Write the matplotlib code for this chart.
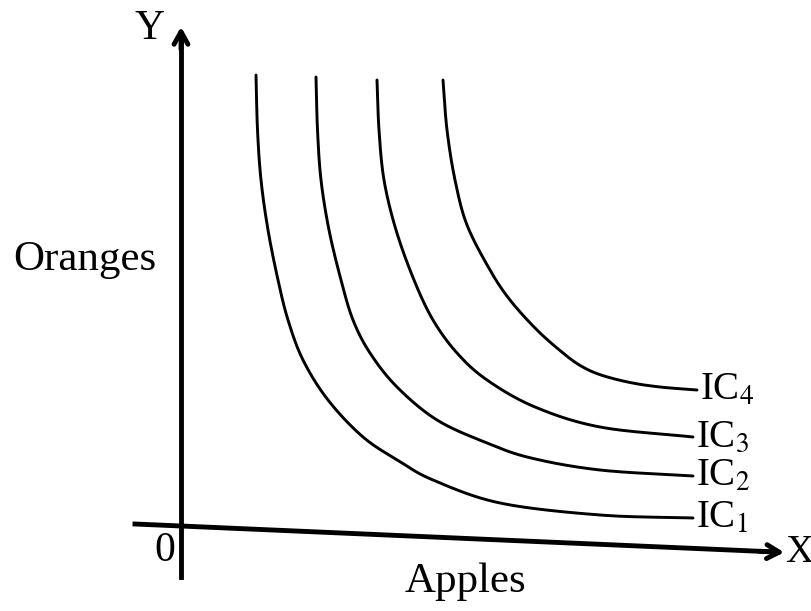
import numpy as np
import matplotlib.pyplot as plt

plt.rcParams['font.family'] = 'Liberation Serif'
plt.rcParams['mathtext.fontset'] = 'stix'

# indifference curves (apples, oranges)
ic1_x = [7.5, 7.65, 8.0, 8.7, 9.7, 10.7, 12.2, 14.7, 18.2, 21.8, 25.2, 31.9, 41.9, 51.2]
ic1_y = [44.7, 39.2, 34.2, 29.2, 24.2, 20.2, 16.2, 12.2, 8.5, 6.1, 4.2, 1.9, 0.7, 0.4]
ic2_x = [13.5, 13.65, 14.0, 14.8, 16.0, 17.2, 18.9, 21.6, 25.6, 30.6, 35.0, 41.9, 51.2]
ic2_y = [44.5, 39.2, 34.2, 29.2, 24.2, 20.2, 16.9, 13.5, 10.2, 7.9, 6.4, 5.2, 4.6]
ic3_x = [19.6, 19.8, 20.3, 21.5, 23.3, 25.2, 27.6, 30.6, 35.4, 41.9, 51.2]
ic3_y = [44.2, 39.2, 34.2, 29.2, 24.2, 20.2, 16.9, 14.2, 11.5, 9.5, 8.5]
ic4_x = [26.2, 26.6, 27.4, 28.6, 30.9, 32.9, 35.6, 38.2, 40.0, 42.0, 44.9, 47.9, 51.6]
ic4_y = [44.2, 39.2, 34.2, 29.7, 25.2, 22.2, 19.2, 16.9, 15.6, 14.7, 13.95, 13.5, 13.2]
curves = [(ic1_x, ic1_y), (ic2_x, ic2_y), (ic3_x, ic3_y), (ic4_x, ic4_y)]
labels = ['IC$_1$', 'IC$_2$', 'IC$_3$', 'IC$_4$']


def smooth(x, y, n=20):
    # catmull-rom through the read points, only for drawing
    p = np.column_stack([x, y]).astype(float)
    p = np.vstack([2 * p[0] - p[1], p, 2 * p[-1] - p[-2]])
    t = np.linspace(0, 1, n, endpoint=False)[:, None]
    out = []
    for i in range(1, len(p) - 2):
        p0, p1, p2, p3 = p[i - 1], p[i], p[i + 1], p[i + 2]
        out.append(0.5 * (2 * p1 + (-p0 + p2) * t + (2 * p0 - 5 * p1 + 4 * p2 - p3) * t ** 2
                          + (-p0 + 3 * p1 - 3 * p2 + p3) * t ** 3))
    out.append(p[-2][None, :])
    out = np.vstack(out)
    return out[:, 0], out[:, 1]


fig = plt.figure(figsize=(8.12, 6.11), dpi=100)
ax = fig.add_axes([0, 0, 1, 1])
ax.set_xlim(-18.1, 63.1)
ax.set_ylim(-8.9, 52.2)
ax.axis('off')

for (x, y), lab in zip(curves, labels):
    sx, sy = smooth(x, y)
    ax.plot(sx, sy, color='black', lw=2.1, solid_capstyle='round')
    ax.text(x[-1] + 0.3, y[-1], lab, fontsize=28, va='center', ha='left')

# axes
ax.plot([0, 0], [-5.5, 48.5], color='black', lw=3.5)
ax.annotate('', xy=(0, 49.8), xytext=(0, 47),
            arrowprops=dict(arrowstyle='->,head_length=0.9,head_width=0.5', lw=3.5, color='black'))
ax.plot([-4.6, 59.5], [-0.2, -3.0], color='black', lw=3.5)
ax.annotate('', xy=(60.6, -3.05), xytext=(57.6, -2.92),
            arrowprops=dict(arrowstyle='->,head_length=0.9,head_width=0.5', lw=3.5, color='black'))

ax.text(-3.1, 49.3, 'Y', fontsize=30, ha='center', va='center')
ax.text(61.8, -3.0, 'X', fontsize=28, ha='center', va='center')
ax.text(-1.6, -2.9, '0', fontsize=30, ha='center', va='center')
ax.text(-9.6, 26.2, 'Oranges', fontsize=31, ha='center', va='center')
ax.text(28.4, -6.0, 'Apples', fontsize=31, ha='center', va='center')

fig.savefig('out.png', dpi=100)
